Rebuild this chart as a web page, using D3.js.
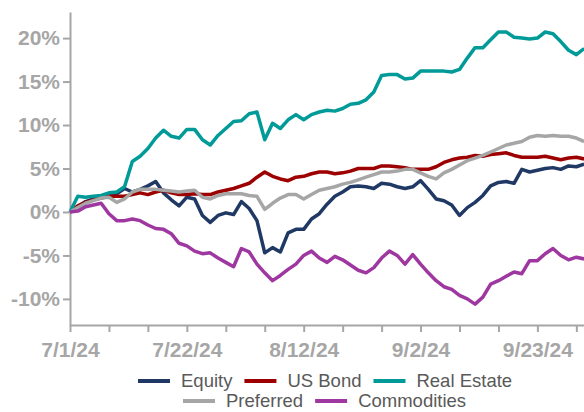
<!DOCTYPE html>
<html>
<head>
<meta charset="utf-8">
<script src="https://cdn.jsdelivr.net/npm/d3@7"></script>
<style>
  body { margin: 0; background: #fff; }
  text { font-family: "Liberation Sans", Arial, sans-serif; }
</style>
</head>
<body>
<script>
// daily (weekday) cumulative returns, 7/1/24 - 10/1/24, in %
const firstDay = "2024-07-01", lastDay = "2024-10-01";
const tickLabels = ["7/1/24", "7/22/24", "8/12/24", "9/2/24", "9/23/24"];
const yTicks = [-10, -5, 0, 5, 10, 15, 20];

const equity = [0, 0.6, 1.2, 1.5, 1.7, 1.9, 2.1, 2.7, 2.3, 2.6, 3.0, 3.5, 2.2, 1.4, 0.7, 1.7, 1.5,
  -0.4, -1.2, -0.4, -0.1, -0.3, 1.2, 0.4, -1.0, -4.7, -4.1, -4.6, -2.4, -2.0, -2.0, -0.8, -0.2,
  0.9, 1.8, 2.3, 2.9, 3.0, 2.9, 2.7, 3.3, 3.2, 2.9, 2.7, 2.9, 3.6, 2.6, 1.5, 1.3,
  0.8, -0.4, 0.5, 1.1, 1.9, 3.0, 3.4, 3.5, 3.3, 4.9, 4.6, 4.8, 5.0, 5.1, 4.9, 5.3, 5.2, 5.5];
const usBond = [0, 0.7, 1.1, 1.4, 1.6, 1.8, 1.8, 1.8, 2.0, 2.2, 2.0, 2.3, 2.5, 2.2, 2.0, 2.0, 2.1,
  2.0, 2.0, 2.3, 2.5, 2.7, 3.0, 3.3, 4.0, 4.6, 4.1, 3.8, 3.6, 4.0, 4.1, 4.4, 4.6,
  4.6, 4.4, 4.5, 4.7, 5.0, 5.0, 5.0, 5.3, 5.3, 5.2, 5.1, 4.9, 4.9, 4.9, 5.2, 5.7,
  6.0, 6.2, 6.3, 6.5, 6.4, 6.6, 6.7, 6.8, 6.5, 6.3, 6.3, 6.3, 6.4, 6.2, 6.0, 6.2, 6.3, 6.1];
const realEstate = [0, 1.8, 1.7, 1.8, 1.9, 2.2, 2.3, 2.9, 5.8, 6.4, 7.3, 8.5, 9.4, 8.7, 8.5, 9.5, 9.5,
  8.3, 7.7, 8.8, 9.6, 10.4, 10.5, 11.3, 11.5, 8.3, 10.2, 9.6, 10.6, 11.2, 10.6, 11.2, 11.5,
  11.7, 11.6, 11.9, 12.4, 12.5, 12.9, 13.8, 15.7, 15.8, 15.8, 15.3, 15.4, 16.2, 16.2, 16.2, 16.2,
  16.1, 16.4, 17.7, 18.9, 18.9, 19.8, 20.7, 20.7, 20.1, 20.0, 19.9, 20.0, 20.7, 20.5, 19.6, 18.6, 18.1, 18.8];
const preferred = [0, 0.5, 1.0, 1.3, 1.6, 1.7, 1.1, 1.5, 2.3, 2.6, 2.6, 2.6, 2.5, 2.4, 2.3, 2.4, 2.5,
  1.7, 1.5, 1.9, 2.1, 2.1, 2.1, 1.9, 1.8, 0.3, 1.0, 1.6, 2.0, 2.0, 1.5, 2.0, 2.5,
  2.7, 2.9, 3.2, 3.4, 3.7, 4.0, 4.3, 4.6, 4.6, 4.7, 4.9, 4.9, 4.5, 4.1, 3.8, 4.5,
  4.9, 5.4, 5.9, 6.2, 6.5, 6.9, 7.3, 7.7, 7.9, 8.1, 8.6, 8.8, 8.7, 8.8, 8.7, 8.7, 8.5, 8.1];
const commodities = [0, 0.1, 0.6, 0.8, 1.0, -0.2, -1.0, -1.0, -0.8, -1.0, -1.5, -1.9, -2.0, -2.5, -3.6, -3.9, -4.5,
  -4.8, -4.7, -5.3, -5.8, -6.3, -4.2, -4.6, -6.0, -7.0, -7.9, -7.3, -6.6, -6.0, -5.0, -4.5, -5.3,
  -5.8, -5.1, -5.5, -6.1, -6.7, -7.0, -6.4, -5.3, -4.5, -5.0, -6.0, -4.9, -6.0, -7.0, -7.9, -8.6,
  -8.9, -9.6, -10.0, -10.6, -9.8, -8.3, -7.9, -7.4, -6.9, -7.1, -5.6, -5.6, -4.8, -4.2, -5.0, -5.5, -5.2, -5.4];

const names = ["Equity", "US Bond", "Real Estate", "Preferred", "Commodities"];
const colors = ["#1f3864", "#9c0000", "#009a98", "#a6a6a6", "#9e379f"];
const values = [equity, usBond, realEstate, preferred, commodities];

const parse = d3.utcParse("%Y-%m-%d");
const fmt = d3.utcFormat("%-m/%-d/%y");
const dates = d3.utcDay.range(parse(firstDay), d3.utcDay.offset(parse(lastDay), 1))
  .filter(d => d.getUTCDay() % 6 !== 0)
  .map(fmt);

const width = 584, height = 412;
const svg = d3.select("body").append("svg")
  .attr("width", width)
  .attr("height", height);

const x = d3.scalePoint()
  .domain(dates)
  .range([70, 70 + 7.79 * (dates.length - 1)]);

const y = d3.scaleLinear()
  .domain([-13, 23])
  .range([325, 12]);

const axisColor = "#a6a6a6";

// y axis
svg.append("g")
  .attr("transform", "translate(70,0)")
  .call(d3.axisLeft(y).tickValues(yTicks).tickFormat(d => d + "%").tickSize(7).tickSizeOuter(0).tickPadding(3))
  .call(g => g.selectAll("path, line").attr("stroke", axisColor).attr("stroke-width", 2))
  .call(g => g.selectAll("text").attr("fill", axisColor).attr("font-size", 21).attr("font-weight", "bold")
    .attr("font-family", "Liberation Sans, Arial, sans-serif"));

// x axis, tick every week, label every 3 weeks
svg.append("g")
  .attr("transform", "translate(0,325)")
  .call(d3.axisBottom(x).tickValues(dates.filter((d, i) => i % 5 === 0))
    .tickFormat(d => tickLabels.includes(d) ? d : "").tickSize(7).tickSizeOuter(0).tickPadding(10))
  .call(g => g.selectAll("path, line").attr("stroke", axisColor).attr("stroke-width", 2))
  .call(g => g.selectAll("text").attr("fill", axisColor).attr("font-size", 21).attr("font-weight", "bold")
    .attr("font-family", "Liberation Sans, Arial, sans-serif"));

const line = d3.line()
  .x((d, i) => x(dates[i]))
  .y(d => y(d));

values.forEach((vals, k) => {
  svg.append("path")
    .datum(vals)
    .attr("fill", "none")
    .attr("stroke", colors[k])
    .attr("stroke-width", 3.5)
    .attr("stroke-linejoin", "round")
    .attr("d", line);
});

// legend, two centered rows
const rows = [{ y: 381, x0: 138, items: [0, 1, 2] }, { y: 401, x0: 183, items: [3, 4] }];
rows.forEach(r => {
  let cx = r.x0;
  r.items.forEach(k => {
    svg.append("line")
      .attr("x1", cx).attr("x2", cx + 32)
      .attr("y1", r.y).attr("y2", r.y)
      .attr("stroke", colors[k]).attr("stroke-width", 4);
    const t = svg.append("text")
      .attr("x", cx + 43)
      .attr("y", r.y)
      .attr("dy", "0.35em")
      .attr("font-size", 18.5)
      .attr("fill", "#595959")
      .text(names[k]);
    cx += 43 + t.node().getComputedTextLength() + 12;
  });
});
</script>
</body>
</html>
